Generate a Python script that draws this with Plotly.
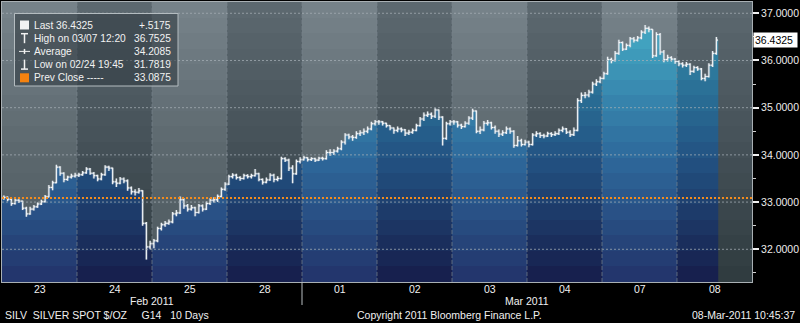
import plotly.graph_objects as go

# ------------------------------------------------------------------ data
days = ["23", "24", "25", "28", "01", "02", "03", "04", "07", "08"]
months = ["Feb 2011", "Mar 2011"]
month_of_day = [0, 0, 0, 0, 1, 1, 1, 1, 1, 1]

prev_close = 33.0875
last_price = 36.4325
y_ticks = [32.0, 33.0, 34.0, 35.0, 36.0, 37.0]

legend_labels = ["Last 36.4325", "High on 03/07 12:20", "Average",
                 "Low on 02/24 19:45", "Prev Close -----"]
legend_values = ["+.5175", "36.7525", "34.2085", "31.7819", "33.0875"]

footer_left = "SILV\u00a0\u00a0SILVER SPOT $/OZ\u00a0\u00a0\u00a0\u00a0\u00a0G14\u00a0\u00a0\u00a010 Days"
footer_mid = "Copyright 2011 Bloomberg Finance L.P."
footer_right = "08-Mar-2011 10:45:37"

close_23 = [33.10, 33.06, 32.97, 33.04, 33.02, 32.87, 32.75, 32.85, 32.90, 32.96,
            33.01, 33.11, 33.31, 33.41, 33.74, 33.61, 33.48, 33.53, 33.55, 33.57]
high_23 = [33.14, 33.12, 33.08, 33.07, 33.06, 33.03, 32.90, 32.90, 32.94, 32.99,
           33.05, 33.15, 33.36, 33.45, 33.79, 33.76, 33.63, 33.56, 33.60, 33.62]
low_23 = [33.05, 33.02, 32.92, 32.95, 32.98, 32.83, 32.69, 32.73, 32.82, 32.88,
          32.94, 32.99, 33.10, 33.25, 33.40, 33.56, 33.42, 33.45, 33.50, 33.52]

close_24 = [33.58, 33.62, 33.70, 33.61, 33.56, 33.49, 33.58, 33.74, 33.72, 33.43,
            33.40, 33.49, 33.45, 33.30, 33.22, 33.21, 33.24, 32.55, 32.05, 32.12]
high_24 = [33.62, 33.66, 33.74, 33.72, 33.64, 33.58, 33.62, 33.78, 33.77, 33.73,
           33.50, 33.53, 33.52, 33.48, 33.33, 33.27, 33.30, 33.25, 32.58, 32.18]
low_24 = [33.53, 33.56, 33.60, 33.58, 33.50, 33.44, 33.46, 33.56, 33.66, 33.38,
          33.32, 33.38, 33.40, 33.24, 33.16, 33.14, 33.18, 32.50, 31.7819, 32.00]

close_25 = [32.18, 32.44, 32.52, 32.55, 32.58, 32.75, 32.77, 33.05, 32.92, 32.85,
            32.88, 32.78, 32.92, 32.85, 32.97, 33.04, 33.05, 33.12, 33.27, 33.38]
high_25 = [32.22, 32.48, 32.56, 32.60, 32.63, 32.79, 32.83, 33.12, 33.08, 32.96,
           32.94, 32.90, 32.96, 32.95, 33.01, 33.08, 33.10, 33.16, 33.31, 33.42]
low_25 = [32.02, 32.15, 32.40, 32.48, 32.52, 32.55, 32.70, 32.75, 32.86, 32.80,
          32.82, 32.70, 32.76, 32.80, 32.83, 32.94, 32.99, 33.00, 33.10, 33.24]

close_28 = [33.54, 33.57, 33.52, 33.50, 33.56, 33.54, 33.56, 33.60, 33.48, 33.42,
            33.47, 33.57, 33.48, 33.50, 33.92, 33.89, 33.72, 33.60, 33.86, 33.90]
high_28 = [33.58, 33.61, 33.60, 33.55, 33.60, 33.59, 33.60, 33.70, 33.62, 33.50,
           33.52, 33.61, 33.60, 33.55, 33.96, 33.95, 33.92, 33.78, 33.90, 33.95]
low_28 = [33.36, 33.50, 33.48, 33.45, 33.48, 33.50, 33.50, 33.54, 33.44, 33.37,
          33.40, 33.45, 33.42, 33.44, 33.48, 33.85, 33.66, 33.40, 33.58, 33.82]

close_01 = [33.94, 33.90, 33.92, 33.89, 33.93, 33.92, 34.05, 34.05, 34.08, 34.13,
            34.27, 34.42, 34.38, 34.37, 34.45, 34.47, 34.50, 34.55, 34.66, 34.70]
high_01 = [33.98, 33.95, 33.95, 33.94, 33.96, 33.96, 34.10, 34.12, 34.12, 34.17,
           34.31, 34.46, 34.45, 34.42, 34.50, 34.52, 34.56, 34.60, 34.70, 34.74]
low_01 = [33.88, 33.86, 33.87, 33.85, 33.87, 33.88, 33.90, 33.98, 34.00, 34.05,
          34.10, 34.22, 34.33, 34.30, 34.34, 34.40, 34.42, 34.46, 34.52, 34.62]

close_02 = [34.70, 34.67, 34.62, 34.57, 34.52, 34.55, 34.53, 34.46, 34.48, 34.52,
            34.62, 34.76, 34.84, 34.86, 34.82, 34.95, 34.80, 34.35, 34.66, 34.70]
high_02 = [34.74, 34.72, 34.68, 34.63, 34.58, 34.60, 34.58, 34.55, 34.53, 34.56,
           34.66, 34.80, 34.90, 34.92, 34.90, 34.99, 34.96, 34.82, 34.70, 34.74]
low_02 = [34.64, 34.62, 34.58, 34.52, 34.45, 34.48, 34.48, 34.40, 34.42, 34.45,
          34.50, 34.60, 34.72, 34.80, 34.76, 34.78, 34.74, 34.20, 34.32, 34.62]

close_03 = [34.70, 34.63, 34.60, 34.67, 34.78, 34.93, 34.50, 34.53, 34.67, 34.68,
            34.58, 34.50, 34.44, 34.47, 34.55, 34.50, 34.20, 34.30, 34.22, 34.27]
high_03 = [34.74, 34.72, 34.66, 34.71, 34.82, 34.98, 34.94, 34.60, 34.72, 34.74,
           34.70, 34.62, 34.54, 34.52, 34.60, 34.58, 34.52, 34.40, 34.34, 34.32]
low_03 = [34.64, 34.58, 34.55, 34.58, 34.64, 34.74, 34.46, 34.44, 34.50, 34.62,
          34.54, 34.45, 34.38, 34.40, 34.44, 34.45, 34.15, 34.18, 34.18, 34.20]

close_04 = [34.22, 34.42, 34.45, 34.41, 34.40, 34.45, 34.43, 34.45, 34.52, 34.55,
            34.48, 34.43, 34.52, 35.15, 35.26, 35.27, 35.33, 35.50, 35.55, 35.62]
high_04 = [34.30, 34.46, 34.50, 34.48, 34.45, 34.49, 34.48, 34.50, 34.56, 34.60,
           34.57, 34.52, 34.58, 35.20, 35.32, 35.33, 35.38, 35.55, 35.60, 35.66]
low_04 = [34.16, 34.20, 34.38, 34.36, 34.35, 34.38, 34.38, 34.40, 34.42, 34.48,
          34.44, 34.38, 34.40, 34.50, 35.10, 35.20, 35.22, 35.30, 35.46, 35.52]

close_07 = [35.72, 36.02, 36.00, 36.15, 36.38, 36.24, 36.32, 36.46, 36.43, 36.48,
            36.60, 36.68, 36.66, 36.10, 36.55, 36.18, 36.02, 36.06, 36.03, 35.98]
high_07 = [35.76, 36.08, 36.06, 36.20, 36.44, 36.40, 36.36, 36.50, 36.50, 36.52,
           36.64, 36.7525, 36.72, 36.66, 36.60, 36.58, 36.22, 36.12, 36.09, 36.05]
low_07 = [35.60, 35.70, 35.94, 35.98, 36.12, 36.20, 36.22, 36.28, 36.38, 36.40,
          36.45, 36.56, 36.60, 36.05, 36.08, 36.12, 35.96, 35.98, 35.98, 35.93]

close_08 = [35.93, 35.90, 35.92, 35.77, 35.85, 35.82, 35.62, 35.66, 35.90, 36.15, 36.4325]
high_08 = [36.00, 35.96, 35.97, 35.94, 35.89, 35.88, 35.84, 35.72, 35.94, 36.20, 36.50]
low_08 = [35.88, 35.85, 35.86, 35.69, 35.74, 35.78, 35.58, 35.56, 35.64, 35.86, 36.12]

closes = [close_23, close_24, close_25, close_28, close_01, close_02, close_03, close_04, close_07, close_08]
highs = [high_23, high_24, high_25, high_28, high_01, high_02, high_03, high_04, high_07, high_08]
lows = [low_23, low_24, low_25, low_28, low_01, low_02, low_03, low_04, low_07, low_08]

# ------------------------------------------------------------------ layout constants
BARS = 20                      # bar slots per trading day
TICK = 0.45 / BARS             # open/close tick length (x units)
Y0, Y1 = 31.307, 37.239        # visible price range
W, H = 800, 323
ML, MR, MT, MB = 2, 48, 2, 41
PW, PH = W - ML - MR, H - MT - MB
FONT = "Liberation Sans"


def hex2rgb(h):
    return tuple(int(h[i:i + 2], 16) for i in (1, 3, 5))


def interp(stops, p):
    for (p0, c0), (p1, c1) in zip(stops, stops[1:]):
        if p <= p1:
            f = max(0.0, (p - p0) / (p1 - p0))
            a, b = hex2rgb(c0), hex2rgb(c1)
            return "rgb(%d,%d,%d)" % tuple(round(a[i] + (b[i] - a[i]) * f) for i in range(3))
    return "rgb(%d,%d,%d)" % hex2rgb(stops[-1][1])


def stepped(stops, n=18):
    cs = []
    for i in range(n):
        col = interp(stops, Y0 + (Y1 - Y0) * (i + 0.5) / n)
        cs += [[i / n, col], [(i + 1) / n, col]]
    return cs


bg_light = stepped([(31.3, "#4b575d"), (34.0, "#5b676d"), (37.24, "#77838a")])
bg_dark = stepped([(31.3, "#2f3b3f"), (34.0, "#434f56"), (37.24, "#5d6970")])
fill_light = stepped([(31.3, "#22336a"), (34.0, "#2e6a9c"), (37.24, "#47b5cb")])
fill_dark = stepped([(31.3, "#161d4a"), (34.0, "#235484"), (37.24, "#3597b0")])


def px(x):
    return (x - ML) / PW


def py(y):
    return (MT + PH - y) / PH


fig = go.Figure()

# background day bands
for d in range(len(days)):
    fig.add_trace(go.Scatter(
        x=[d, d + 1], y=[Y1, Y1], mode="lines", line=dict(width=0),
        fill="tozeroy", fillgradient=dict(type="vertical", start=Y0, stop=Y1,
                                          colorscale=bg_light if d % 2 == 0 else bg_dark),
        hoverinfo="skip", showlegend=False))

# opens (previous bar's close)
opens = []
prev = prev_close
for c in closes:
    o = []
    for v in c:
        o.append(prev)
        prev = v
    opens.append(o)

# area under price, per day
for d, c in enumerate(closes):
    n = len(c)
    xs = [d] + [d + (k + 0.5) / BARS for k in range(n)] + [d + n / BARS]
    ys = [opens[d][0]] + c + [c[-1]]
    fig.add_trace(go.Scatter(
        x=xs, y=ys, mode="lines", line=dict(width=0, shape="hv"),
        fill="tozeroy", fillgradient=dict(type="vertical", start=Y0, stop=Y1,
                                          colorscale=fill_light if d % 2 == 0 else fill_dark),
        hoverinfo="skip", showlegend=False))

# OHLC bars drawn as line segments (with a soft grey halo underneath)
bx, by = [], []
for d in range(len(days)):
    for k, c in enumerate(closes[d]):
        xc = d + (k + 0.5) / BARS
        bx += [xc - TICK, xc, None, xc, xc, None, xc, xc + TICK, None]
        by += [opens[d][k], opens[d][k], None, lows[d][k], highs[d][k], None, c, c, None]
fig.add_trace(go.Scatter(x=bx, y=by, mode="lines", line=dict(color="rgba(170,182,192,0.45)", width=2.6),
                         connectgaps=False, hoverinfo="skip", showlegend=False))
fig.add_trace(go.Scatter(x=bx, y=by, mode="lines", line=dict(color="#f4f7f9", width=1.1),
                         connectgaps=False, hoverinfo="skip", showlegend=False))

shapes = []
for t in y_ticks:
    shapes.append(dict(type="line", xref="x", yref="y", x0=0, x1=len(days), y0=t, y1=t,
                       line=dict(color="rgba(165,175,182,0.75)", width=1, dash="2px,2px"),
                       layer="above"))
for d in range(1, len(days)):
    shapes.append(dict(type="line", xref="x", yref="paper", x0=d, x1=d, y0=0, y1=1,
                       line=dict(color="rgba(120,132,140,0.7)", width=1, dash="4px,2px"),
                       layer="above"))
shapes.append(dict(type="line", xref="x", yref="y", x0=0, x1=len(days), y0=prev_close, y1=prev_close,
                   line=dict(color="#f28c1e", width=2, dash="2px,2px"), layer="above"))
for d in range(1, len(days)):
    if month_of_day[d] != month_of_day[d - 1]:
        shapes.append(dict(type="line", xref="x", yref="paper", x0=d, x1=d, y0=0, y1=py(305),
                           line=dict(color="#b8bec2", width=1)))

# legend box
shapes.append(dict(type="rect", xref="paper", yref="paper", x0=px(14.5), x1=px(178), y0=py(13.5), y1=py(86),
                   fillcolor="rgba(50,60,66,0.6)", line=dict(color="#b4bcc0", width=1), layer="above"))
row_y = [25 + 13.2 * i for i in range(len(legend_labels))]
ic = "#f2f2f2"
shapes.append(dict(type="rect", xref="paper", yref="paper", x0=px(20), x1=px(29),
                   y0=py(row_y[0] + 4.5), y1=py(row_y[0] - 4.5), fillcolor=ic, line=dict(width=0), layer="above"))
shapes.append(dict(type="line", xref="paper", yref="paper", x0=px(21), x1=px(28),
                   y0=py(row_y[1] - 4.5), y1=py(row_y[1] - 4.5), line=dict(color=ic, width=1.5), layer="above"))
shapes.append(dict(type="line", xref="paper", yref="paper", x0=px(24.5), x1=px(24.5),
                   y0=py(row_y[1] - 4.5), y1=py(row_y[1] + 5), line=dict(color=ic, width=1.5), layer="above"))
shapes.append(dict(type="line", xref="paper", yref="paper", x0=px(19), x1=px(30),
                   y0=py(row_y[2]), y1=py(row_y[2]), line=dict(color=ic, width=1), layer="above"))
shapes.append(dict(type="line", xref="paper", yref="paper", x0=px(24.5), x1=px(24.5),
                   y0=py(row_y[2] - 2.5), y1=py(row_y[2] + 2.5), line=dict(color=ic, width=1.5), layer="above"))
shapes.append(dict(type="line", xref="paper", yref="paper", x0=px(21), x1=px(28),
                   y0=py(row_y[3] + 4.5), y1=py(row_y[3] + 4.5), line=dict(color=ic, width=1.5), layer="above"))
shapes.append(dict(type="line", xref="paper", yref="paper", x0=px(24.5), x1=px(24.5),
                   y0=py(row_y[3] - 5), y1=py(row_y[3] + 4.5), line=dict(color=ic, width=1.5), layer="above"))
shapes.append(dict(type="rect", xref="paper", yref="paper", x0=px(20), x1=px(29),
                   y0=py(row_y[4] + 4.5), y1=py(row_y[4] - 4.5), fillcolor="#f5820f", line=dict(width=0), layer="above"))

annotations = []
for i, (lab, val) in enumerate(zip(legend_labels, legend_values)):
    annotations.append(dict(xref="paper", yref="paper", x=px(31.5), y=py(row_y[i]), text=lab,
                            xanchor="left", yanchor="middle", showarrow=False,
                            font=dict(family=FONT, size=10.2, color="#f2f2f2")))
    annotations.append(dict(xref="paper", yref="paper", x=px(173), y=py(row_y[i]), text=val,
                            xanchor="right", yanchor="middle", showarrow=False,
                            font=dict(family=FONT, size=10.2, color="#f2f2f2")))

for d, lab in enumerate(days):
    annotations.append(dict(xref="x", yref="paper", x=d + 0.5, y=0, yshift=-(288.5 - (MT + PH)),
                            text=lab, showarrow=False, yanchor="middle",
                            font=dict(family=FONT, size=10.5, color="#f0f0f0")))
for m, name in enumerate(months):
    ds = [d for d in range(len(days)) if month_of_day[d] == m]
    annotations.append(dict(xref="x", yref="paper", x=(ds[0] + ds[-1] + 1) / 2, y=0,
                            yshift=-(300.5 - (MT + PH)), text=name, showarrow=False, yanchor="middle",
                            font=dict(family=FONT, size=10.5, color="#f0f0f0")))
fy = -(314.5 - (MT + PH))
annotations.append(dict(xref="paper", yref="paper", x=px(3), y=0, yshift=fy, text=footer_left,
                        xanchor="left", yanchor="middle", showarrow=False,
                        font=dict(family=FONT, size=10.5, color="#f0f0f0")))
annotations.append(dict(xref="paper", yref="paper", x=px(449), y=0, yshift=fy, text=footer_mid,
                        xanchor="center", yanchor="middle", showarrow=False,
                        font=dict(family=FONT, size=10.5, color="#f0f0f0")))
annotations.append(dict(xref="paper", yref="paper", x=px(797), y=0, yshift=fy, text=footer_right,
                        xanchor="right", yanchor="middle", showarrow=False,
                        font=dict(family=FONT, size=10.5, color="#f0f0f0")))
annotations.append(dict(xref="paper", yref="y", x=1, xshift=1, y=last_price, text="%.4f\u00a0" % last_price,
                        xanchor="left", yanchor="middle", showarrow=False, bgcolor="#ffffff",
                        borderpad=1, font=dict(family=FONT, size=10.5, color="#000000")))

minor_vals = [(a + b) / 2 for a, b in zip([y_ticks[0] - 1] + y_ticks, y_ticks + [y_ticks[-1] + 1])]

fig.update_layout(
    template="none",
    width=W, height=H,
    margin=dict(l=ML, r=MR, t=MT, b=MB, pad=0),
    paper_bgcolor="#000000", plot_bgcolor="#000000",
    showlegend=False,
    shapes=shapes, annotations=annotations,
    xaxis=dict(range=[0, len(days)], showgrid=False, zeroline=False, showticklabels=False,
               ticks="", showline=True, mirror=True, linecolor="#a9b0b4", linewidth=1,
               fixedrange=True, automargin=False),
    yaxis=dict(range=[Y0, Y1], side="right", showgrid=False, zeroline=False,
               tickmode="array", tickvals=y_ticks, tickformat=".4f",
               ticks="outside", ticklen=6, tickwidth=2, tickcolor="#f0f0f0",
               tickfont=dict(family=FONT, size=10.5, color="#ececec"),
               minor=dict(tickmode="array", tickvals=minor_vals, ticks="outside", ticklen=3,
                          tickcolor="#d0d0d0", tickwidth=1),
               showline=True, mirror=True, linecolor="#a9b0b4", linewidth=1,
               fixedrange=True, automargin=False),
)

fig.write_html("out.html", include_plotlyjs=True, config=dict(displayModeBar=False))
